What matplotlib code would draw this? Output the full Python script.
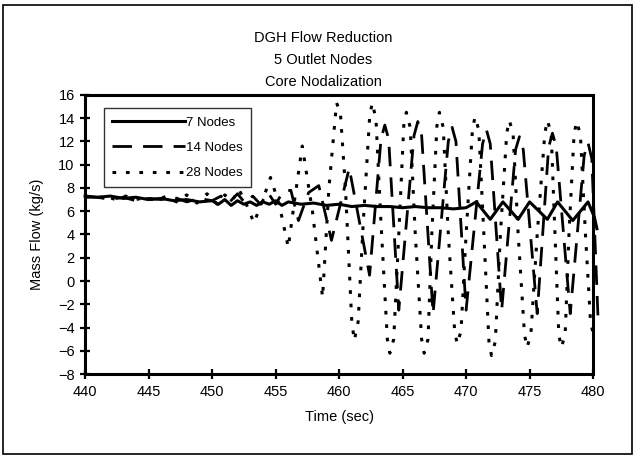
import matplotlib
matplotlib.use("Agg")
import matplotlib.pyplot as plt
from matplotlib.patches import Rectangle

plt.rcParams['font.family'] = ['Liberation Sans', 'DejaVu Sans']

# 7 Nodes
t7 = [440, 441, 442, 443, 444, 445, 446, 447, 448, 449, 450, 450.5, 451, 451.5,
      452, 452.5, 453, 453.5, 454, 454.5, 455, 455.5, 456, 457, 458, 459, 460,
      461, 462, 463, 464, 465, 466, 467, 468, 469, 470, 470.8, 471.9, 472.9,
      474.1, 475.0, 476.4, 477.2, 478.4, 479.6, 480.1, 480.3]
m7 = [7.3, 7.2, 7.3, 7.1, 7.2, 7.0, 7.1, 6.9, 7.0, 6.8, 6.9, 6.6, 7.0, 6.5,
      6.9, 6.6, 6.8, 6.5, 6.8, 6.6, 6.9, 6.5, 6.8, 6.6, 6.7, 6.5, 6.6,
      6.4, 6.5, 6.4, 6.4, 6.3, 6.4, 6.3, 6.3, 6.2, 6.3, 6.8, 5.3, 6.8,
      5.3, 6.8, 5.3, 6.8, 5.2, 6.8, 5.5, 4.5]

# 14 Nodes
t14 = [440, 441, 442, 443, 444, 445, 446, 447, 448, 449, 450, 450.7, 451.3,
       452.0, 452.6, 453.2, 453.8, 454.4, 455.0, 455.6, 456.2, 456.8, 457.6,
       458.4, 459.4, 460.8, 462.4, 463.3, 463.6, 463.9, 464.7, 465.9, 466.2,
       466.5, 467.4, 468.6, 468.9, 469.2, 470.0, 471.3, 471.6, 471.9, 472.8,
       473.9, 474.2, 474.5, 475.6, 476.5, 476.8, 477.1, 478.2, 479.3, 479.6,
       479.9, 480.4]
m14 = [7.2, 7.2, 7.0, 7.2, 6.9, 7.1, 7.0, 7.2, 6.8, 7.1, 6.9, 7.3, 6.7,
       7.5, 6.7, 7.3, 6.6, 7.6, 6.6, 7.7, 7.8, 5.2, 7.6,
       8.2, 3.5, 9.7, 0.5, 12.2, 13.4, 12.2, -2.5, 12.5, 13.7,
       12.5, -2.8, 12.0, 13.2, 12.0, -2.5, 11.8, 13.0, 11.8, -2.5,
       11.3, 12.4, 11.3, -2.8, 11.5, 12.7, 11.5, -2.8, 10.8, 11.9,
       10.5, -3.5]

# 28 Nodes
t28 = [440.0, 440.8, 441.6, 442.4, 443.2, 444.0, 444.8, 445.6, 446.4, 447.2,
       448.0, 448.8, 449.6, 450.4, 451.0, 451.6, 452.1, 452.7, 453.3, 454.0,
       454.6, 455.3, 456.0, 456.5, 457.1, 457.9, 458.7, 459.2, 459.8, 460.1,
       460.5, 461.0, 461.2, 461.5, 461.9, 462.4, 462.6, 462.9, 463.3, 463.8,
       464.0, 464.3, 464.7, 465.1, 465.3, 465.6, 466.0, 466.5, 466.7, 467.0,
       467.3, 467.7, 467.9, 468.2, 468.6, 469.1, 469.3, 469.6, 470.0, 470.5,
       470.7, 471.0, 471.4, 471.8, 472.0, 472.3, 472.7, 473.2, 473.4, 473.7,
       474.1, 474.6, 474.8, 475.1, 475.6, 476.2, 476.4, 476.7, 477.0, 477.3,
       477.5, 477.8, 478.1, 478.5, 478.7, 479.0, 479.4, 479.8, 480.0]
m28 = [7.3, 7.1, 7.3, 7.0, 7.3, 7.0, 7.2, 6.9, 7.3, 6.8,
       7.4, 6.7, 7.5, 6.6, 7.4, 6.9, 7.9, 6.6, 5.0, 7.0,
       8.9, 6.5, 2.9, 7.0, 11.6, 6.0, -1.4, 8.0, 15.3, 14.5,
       8.0, -3.5, -5.1, -3.5, 5.0, 14.0, 15.3, 14.0, 5.0, -5.0,
       -6.2, -5.0, 4.0, 13.5, 14.5, 13.2, 4.0, -5.0, -6.2, -5.0,
       4.0, 13.3, 14.5, 13.2, 4.0, -4.3, -5.4, -4.3, 4.0, 13.0,
       14.1, 13.0, 4.0, -5.2, -6.4, -5.2, 4.0, 12.7, 13.8, 12.7,
       4.0, -4.6, -5.7, -4.6, 4.0, 12.7, 13.8, 12.7, 4.0, -4.6,
       -5.7, -4.6, 4.0, 12.6, 13.7, 12.6, 4.0, -3.5, -4.5]

xticks = list(range(440, 481, 5))
yticks = list(range(-8, 17, 2))

fig = plt.figure(figsize=(6.35, 4.58), dpi=100)
ax = fig.add_axes([0.134, 0.183, 0.8, 0.61])

ax.plot(t7, m7, color='black', lw=2.2, label='7 Nodes', clip_on=False, zorder=4)
ax.plot(t14, m14, color='black', lw=2.0, dashes=(7, 4), label='14 Nodes',
        clip_on=False, zorder=3)
ax.plot(t28, m28, color='black', lw=2.2, dashes=(1.2, 3.2), label='28 Nodes',
        clip_on=False, zorder=2)

ax.set_xlim(440, 480)
ax.set_ylim(-8, 16)
ax.set_xticks(xticks)
ax.set_yticks(yticks)
ax.tick_params(direction='inout', length=7, width=1.6, labelsize=10.5, pad=4)
for s in ax.spines.values():
    s.set_linewidth(2.2)

ax.set_xlabel('Time (sec)', fontsize=10.5, labelpad=8)
ax.set_ylabel('Mass Flow (kg/s)', fontsize=10.5, labelpad=10)

leg = ax.legend(loc='upper left', bbox_to_anchor=(0.025, 0.975), fontsize=9.5,
                handlelength=5.5, handletextpad=0.1, labelspacing=1.0,
                frameon=True, fancybox=False, borderpad=0.6)
leg.get_frame().set_edgecolor('black')
leg.get_frame().set_linewidth(1.0)

for y, s in zip([0.917, 0.869, 0.821],
                ['DGH Flow Reduction', '5 Outlet Nodes', 'Core Nodalization']):
    fig.text(0.509, y, s, ha='center', va='center', fontsize=10.5)

# outer frame around the whole chart
fig.patches.append(Rectangle((0.005, 0.008), 0.99, 0.982, transform=fig.transFigure,
                             fill=False, edgecolor='black', lw=1.2))

fig.savefig('out.png', dpi=100)
